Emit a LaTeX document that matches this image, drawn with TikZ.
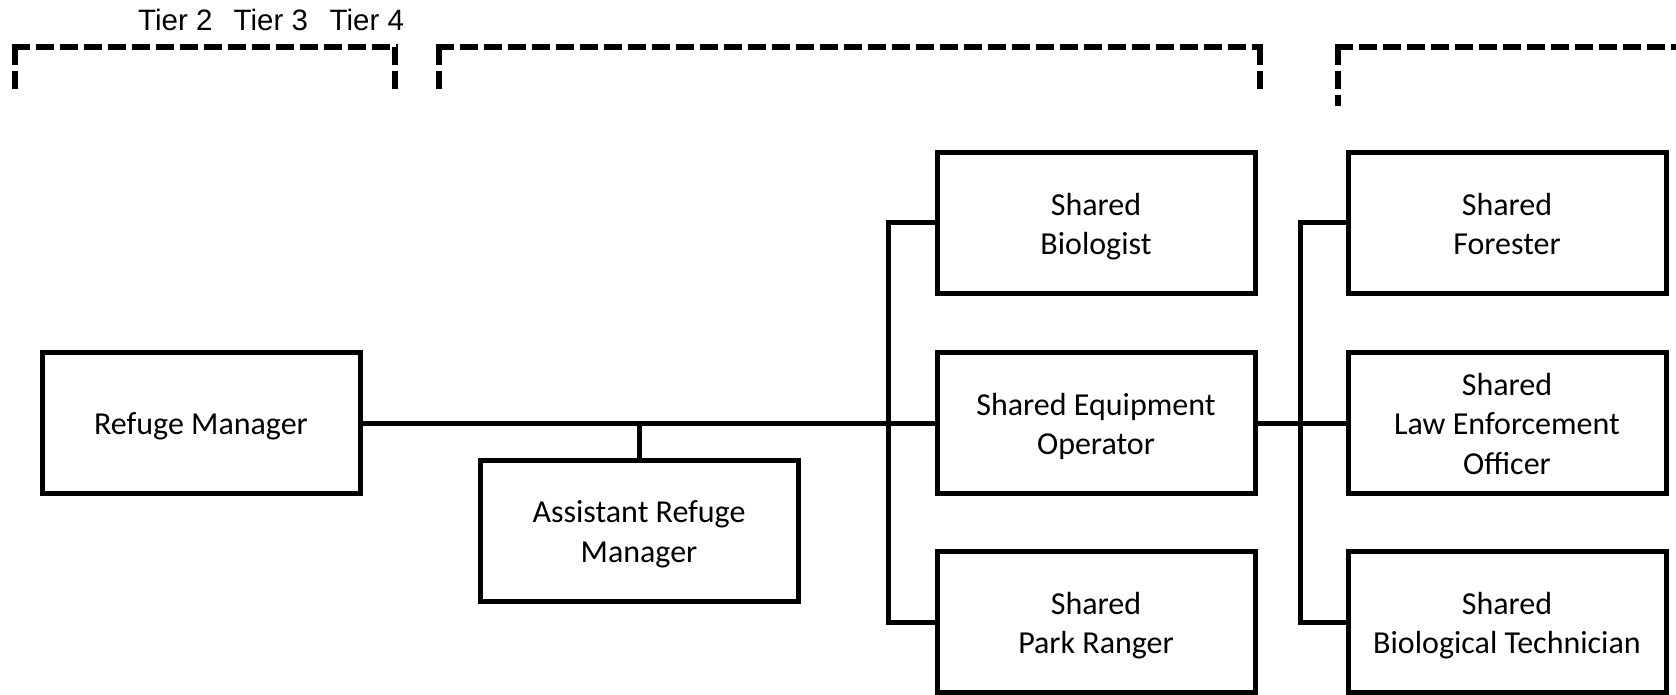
\documentclass[tikz,border=0pt]{standalone}
\usepackage{fontspec}
\setmainfont{Carlito}
\newfontfamily\tierfont{Liberation Sans}
\newcommand\lnst{\rule[-7.7pt]{0pt}{39.2pt}}
\begin{document}
\begin{tikzpicture}[x=1pt,y=-1pt,
  box/.style={draw, line width=5pt, fill=white, minimum width=318pt, minimum height=141pt,
    align=center, inner sep=0pt, font=\fontsize{32}{39.2}\selectfont},
  conn/.style={line width=5pt},
  bracket/.style={line width=5.5pt, dash pattern=on 18pt off 6pt},
  tier/.style={anchor=base west, inner sep=0pt, font=\tierfont\fontsize{29.5}{34}\selectfont}]
\useasboundingbox (0,0) rectangle (1676,695);
% tier labels
\node[tier] (t2) at (138,31) {Tier 2};
\node[tier] (t3) at (233.5,31) {Tier 3};
\node[tier] (t4) at (329.5,31) {Tier 4};
% brackets
\draw[bracket] (15,47) -- (15,89);
\draw[bracket] (12.25,47) -- (397.75,47);
\draw[bracket] (395,47) -- (395,89);
\draw[bracket] (439,47) -- (439,89);
\draw[bracket] (436.25,47) -- (1262.75,47);
\draw[bracket] (1260,47) -- (1260,89);
\draw[bracket] (1338,47) -- (1338,106);
\draw[bracket] (1335.25,47) -- (1690,47);
% boxes
\node[box] (rm)   at (201,423)  {\lnst Refuge Manager};
\node[box] (arm)  at (639,530.5) {\lnst Assistant Refuge\\\lnst Manager};
\node[box] (bio)  at (1096,223) {\lnst Shared\\\lnst Biologist};
\node[box] (eq)   at (1096,423) {\lnst Shared Equipment\\\lnst Operator};
\node[box] (park) at (1096,622) {\lnst Shared\\\lnst Park Ranger};
\node[box] (for)  at (1507,223) {\lnst Shared\\\lnst Forester};
\node[box] (law)  at (1507,423) {\lnst Shared\\\lnst Law Enforcement\\\lnst Officer};
\node[box] (tech) at (1507,622) {\lnst Shared\\\lnst Biological Technician};
% connectors
\draw[conn] (rm.east) -- (eq.west);
\draw[conn] (arm.north |- rm.east) -- (arm.north);
\draw[conn] (bio.west) -- ++(-46,0) |- (park.west);
\draw[conn] (eq.east) -- (law.west);
\draw[conn] (for.west) -- ++(-45,0) |- (tech.west);
\end{tikzpicture}
\end{document}
